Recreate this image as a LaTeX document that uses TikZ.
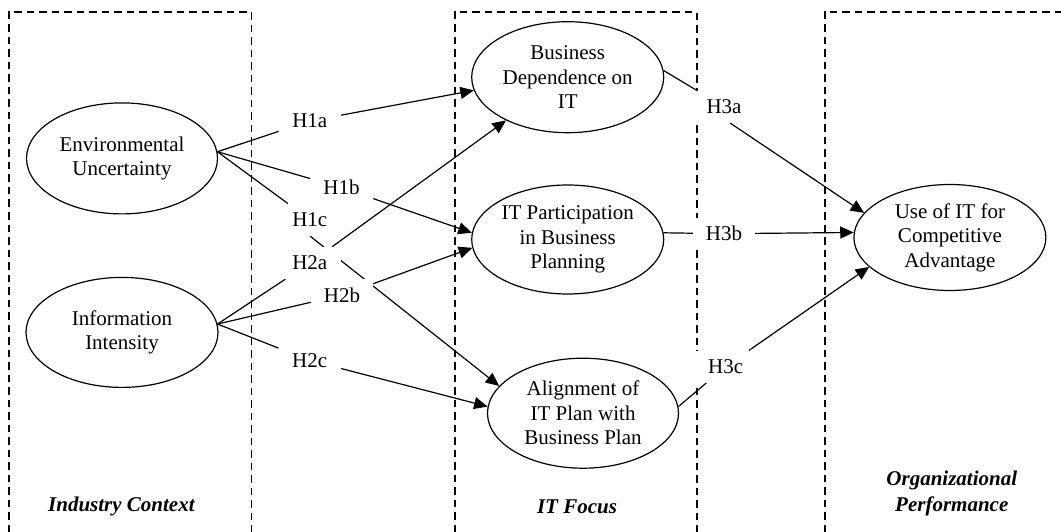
\documentclass[tikz,border=0pt]{standalone}
\usepackage{fontspec}
\setmainfont{Liberation Serif}
\usetikzlibrary{shapes.geometric,arrows.meta,backgrounds}
\begin{document}
\begin{tikzpicture}[x=1pt,y=-1pt,
  every node/.style={font=\fontsize{21}{24.5}\selectfont},
  construct/.style={draw, ellipse, line width=1.2pt, inner sep=0pt, align=center},
  hyp/.style={fill=white, inner sep=0pt, minimum width=62pt, minimum height=32pt},
  area/.style={dash pattern=on 7.5pt off 5pt, line width=1.8pt},
  link/.style={line width=1.2pt},
  arrowlink/.style={link, -{Triangle[length=13.5pt,width=12pt]}},
  section/.style={font=\fontsize{21}{25.5}\selectfont\bfseries\itshape, align=center}
]
\useasboundingbox (0,0) rectangle (1061,532);

% constructs
\node[construct, minimum width=191pt, minimum height=111pt] (EU) at (122,158.4) {Environmental\\Uncertainty};
\node[construct, minimum width=192pt, minimum height=110pt] (II) at (122,332.4) {Information\\Intensity};
\node[construct, minimum width=192pt, minimum height=111pt] (BD) at (567.7,77.2) {Business\\Dependence on\\IT};
\node[construct, minimum width=192pt, minimum height=109pt] (IP) at (567.7,239.5) {IT Participation\\in Business\\Planning};
\node[construct, minimum width=191pt, minimum height=110pt] (AL) at (583,413.2) {Alignment of\\IT Plan with\\Business Plan};
\node[construct, minimum width=192pt, minimum height=106pt] (UIT) at (949.9,237.5) {Use of IT for\\Competitive\\Advantage};

% hypothesis labels
\node[hyp] (H1a) at (309.8,121) {H1a};
\node[hyp] (H1b) at (341.5,187.6) {H1b};
\node[hyp] (H1c) at (309.8,219.7) {H1c};
\node[hyp] (H2a) at (309.8,263) {H2a};
\node[hyp] (H2b) at (342,295) {H2b};
\node[hyp] (H2c) at (309.7,360.4) {H2c};
\node[hyp] (H3a) at (724,106.7) {H3a};
\node[hyp] (H3b) at (724,233.7) {H3b};
\node[hyp] (H3c) at (725.6,366.7) {H3c};

% section titles
\node[section] (ICt) at (121.4,506.8) {Industry Context};
\node[section] (ITt) at (577,506.5) {IT Focus};
\node[section] (OPt) at (951.8,493.5) {Organizational\\Performance};

\begin{pgfonlayer}{background}
  % dashed areas
  \draw[area] (9.1,532) -- (9.1,12.2) -- (251.5,12.2) -- (251.5,532);
  \draw[area] (454.7,532) -- (454.7,12.2) -- (697,12.2) -- (697,532);
  \draw[area] (824.6,532) -- (824.6,12.2) -- (1061,12.2);

  % H1
  \draw[link] (EU.4) -- (H1a);
  \draw[arrowlink] (H1a) -- (BD.188);
  \draw[link] (EU.4) -- (H1b);
  \draw[arrowlink] (H1b) -- (IP.176);
  \draw[link] (EU.4) -- (H1c);
  \draw[arrowlink] (H1c.south) -- (AL.162);
  % H2
  \draw[link] (II.5) -- (H2a);
  \draw[arrowlink] (H2a) -- (BD.215);
  \draw[link] (II.5) -- (H2b);
  \draw[arrowlink] (H2b) -- (IP.185);
  \draw[link] (II.5) -- (H2c);
  \draw[arrowlink] (H2c) -- (AL.176);
  % H3
  \draw[link] (BD.4) -- (H3a);
  \draw[arrowlink] (H3a.-70) -- (UIT.164);
  \draw[link] (IP.4) -- (H3b);
  \draw[arrowlink] (H3b) -- (UIT.177);
  \draw[link] (AL.4) -- (H3c);
  \draw[arrowlink] (H3c) -- (UIT.200);
\end{pgfonlayer}
\end{tikzpicture}
\end{document}
